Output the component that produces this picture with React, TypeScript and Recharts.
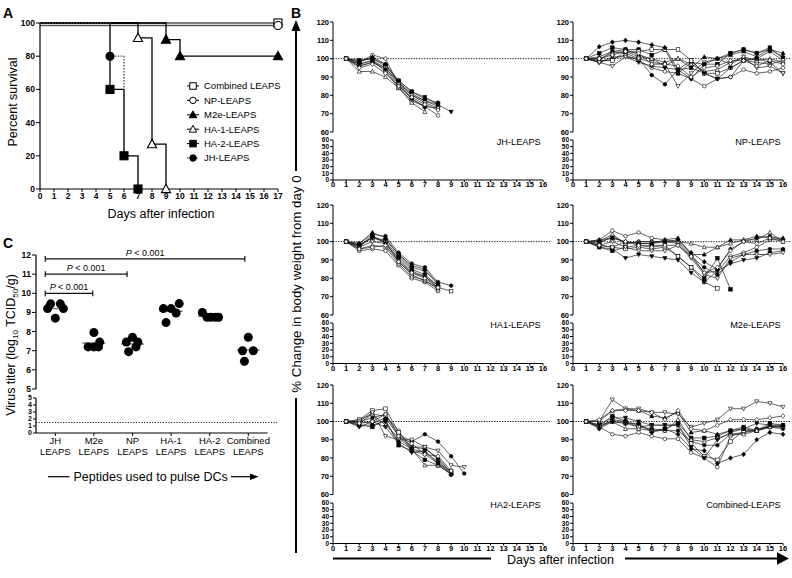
import React from 'react';
import { LineChart, Line, XAxis, YAxis, ReferenceLine, ScatterChart, Scatter } from 'recharts';

const FONT = '"Liberation Sans", Arial, Helvetica, sans-serif';

// ================= Panel A: survival =================
const survivalTicks = [0, 1, 2, 3, 4, 5, 6, 7, 8, 9, 10, 11, 12, 13, 14, 15, 16, 17];
const percentTicks = [0, 20, 40, 60, 80, 100];
const combinedSurvival = [{ day: 0, pct: 100 }, { day: 17, pct: 100, mark: true }];
const npSurvival = [{ day: 0, pct: 98.5 }, { day: 17, pct: 98.5, mark: true }];
const m2eSurvival = [{ day: 0, pct: 100 }, { day: 9, pct: 90, mark: true }, { day: 10, pct: 80, mark: true }, { day: 17, pct: 80, mark: true }];
const ha1Survival = [{ day: 0, pct: 100 }, { day: 7, pct: 91, mark: true }, { day: 8, pct: 27, mark: true }, { day: 9, pct: 0, mark: true }];
const ha2Survival = [{ day: 0, pct: 100 }, { day: 5, pct: 60, mark: true }, { day: 6, pct: 20, mark: true }, { day: 7, pct: 0, mark: true }];
const jhSurvival = [{ day: 0, pct: 100 }, { day: 5, pct: 80, mark: true }, { day: 6, pct: 20 }, { day: 7, pct: 0 }];
const survivalNames = ['Combined LEAPS', 'NP-LEAPS', 'M2e-LEAPS', 'HA-1-LEAPS', 'HA-2-LEAPS', 'JH-LEAPS'];

// ================= Panel C: virus titer =================
const titerCategoriesTop = ['JH', 'M2e', 'NP', 'HA-1', 'HA-2', 'Combined'];
const titerCategoriesBottom = ['LEAPS', 'LEAPS', 'LEAPS', 'LEAPS', 'LEAPS', 'LEAPS'];
const jhTiter = [9.2, 9.45, 9.45, 9.2, 8.7];
const m2eTiter = [7.95, 7.45, 7.2, 7.2, 7.2];
const npTiter = [7.7, 7.45, 7.45, 7.2, 6.95];
const ha1Titer = [9.2, 9.2, 9.46, 8.97, 8.47];
const ha2Titer = [9.0, 8.75, 8.75, 8.75, 8.75];
const combinedTiter = [7.7, 7.0, 7.0, 6.45];
// horizontal spread of the dots inside each category (category units)
const jhJitter = [-0.2, -0.12, 0.13, 0.21, 0];
const m2eJitter = [0, 0.15, -0.15, 0, 0.12];
const npJitter = [0, -0.16, 0.14, 0.09, -0.1];
const ha1Jitter = [-0.2, 0, 0.21, 0.13, -0.13];
const ha2Jitter = [-0.19, -0.07, 0.03, 0.15, 0.23];
const combinedJitter = [0, -0.15, 0.13, -0.1];
const titerUpperTicks = [5, 6, 7, 8, 9, 10, 11, 12];
const titerLowerTicks = [0, 1, 2, 3, 4, 5];
const detectionLimit = 1.5;
const comparisonStarts = [0.24, 0.24, 0.24];
const comparisonEnds = [1.47, 2.36, 5.41];
const comparisonLevels = [10, 11, 11.8];
const comparisonText = 'P < 0.001';

// ================= Panel B: body weight =================
const weightDayTicks = [0, 1, 2, 3, 4, 5, 6, 7, 8, 9, 10, 11, 12, 13, 14, 15, 16];
const weightUpperTicks = [60, 70, 80, 90, 100, 110, 120];
const weightLowerTicks = [0, 10, 20, 30, 40, 50, 60];

const jhWeights = [
  [100, 99, 100, 97, 88, 82, 78, 76],
  [100, 98, 102, 100, 86, 78, 74, 69],
  [100, 99, 100, 96, 88, 82, 79, 75],
  [100, 97, 99, 93, 84, 77, 74, 73],
  [100, 98, 101, 97, 87, 80, 77, 74],
  [100, 93, 93, 90, 84, 76, 71],
  [100, 97, 99, 95, 87, 81, 77, 75, 71],
  [100, 96, 98, 95, 86, 80, 76, 73],
  [100, 96, 98, 94, 85, 78, 73.5],
  [100, 95, 97, 92, 85, 79, 75, 72],
];
const npWeights = [
  [100, 99, 104, 103, 100, 91, 86, 94, 99, 92, 89, 90, 99, 100, 104, 99],
  [100, 98, 100, 102, 99, 95, 93, 92, 89, 85, 89, 90, 94, 92, 93, 95],
  [100, 103, 106, 105, 105, 102, 105, 92, 98, 97, 97, 103, 105, 103, 106, 100],
  [100, 99, 99, 104, 104, 105, 105, 105, 99, 92, 92, 95, 99, 98, 97, 99],
  [100, 101, 104, 105, 102, 100, 98, 100, 95, 101, 100, 102, 104, 101, 105, 103],
  [100, 100, 103, 104, 101, 100, 96, 100, 97, 93, 94, 98, 101, 99, 100, 98],
  [100, 98, 101, 101, 98, 96, 95, 94, 95, 92, 89, 95, 99, 100, 98, 92],
  [100, 98, 96, 101, 100, 98, 97, 85, 92, 98, 100, 97, 101, 95, 96, 92],
  [100, 106.5, 109, 110, 109, 107.5, 106, 94, 89, 97, 100, 103, 105, 103, 105, 101],
  [100, 100, 102, 104, 103, 97, 97, 96, 90, 95, 96, 99, 99, 96, 99, 97],
];
const ha1Weights = [
  [100, 99, 104, 103, 94, 88, 86, 78, 76],
  [100, 95, 96, 95, 87, 80, 78, 73],
  [100, 97, 103, 100, 92, 85, 82, 76],
  [100, 98, 102, 100, 89, 82, 78.5, 75, 73],
  [100, 99, 105, 102, 93, 87, 85, 77],
  [100, 96, 98, 97, 88, 81, 79, 74],
  [100, 98, 102, 101, 93, 86, 84, 77],
  [100, 97, 100, 99, 90, 83, 81, 75],
  [100, 98, 103, 99, 91, 84, 81, 76],
  [100, 96, 97, 98, 89, 83, 80, 75],
];
const m2eWeights = [
  [100, 99, 103, 99, 100, 100, 100, 99, 92, 86, 82, 89, 93, 95, 96, 96],
  [100, 101, 106, 103, 105, 102, 101, 100, 93, 83, 84, 92, 94, 97, 101, 101],
  [100, 97, 95, 97, 98, 98, 98, 92, 86, 80, 91, 74],
  [100, 98, 97, 96, 97, 96, 97, 92, 86, 78, 74.5],
  [100, 101, 102, 100, 99, 99, 101, 102, 93, 93, 97, 101, 101, 103, 102, 102],
  [100, 100, 104, 99, 100, 100, 100, 100, 99, 97, 97, 99, 101, 101, 105, 100],
  [100, 97, 96, 91, 93, 92, 91, 90, 83, 78, 84, 88, 90, 91, 94, 95],
  [100, 98, 100, 97, 95, 95, 95, 98, 91, 82, 80, 91, 93, 93, 93, 94],
  [100, 100, 102, 100, 99, 99, 100, 101, 94, 89, 85, 96, 100, 102, 103, 101],
  [100, 98, 97, 100, 98, 97, 98, 98, 92, 83, 86, 95, 100, 99, 102, 100],
];
const ha2Weights = [
  [100, 100, 102, 104, 93, 89, 93, 89, 81, 71.5],
  [100, 101, 104, 103, 95, 84, 82, 77, 71],
  [100, 98, 97, 101, 87, 84, 79, 76, 72],
  [100, 101, 106, 107, 94, 86, 86, 79, 72],
  [100, 100, 99, 102, 92, 86, 85, 80, 72],
  [100, 99, 104, 98, 91, 85, 76, 76, 71],
  [100, 97, 100, 97, 88, 83, 84, 77, 73],
  [100, 100, 105, 92, 90, 90, 86, 84, 76, 75],
  [100, 98, 98, 100, 89, 85, 83, 78, 71],
  [100, 99, 100, 104, 92, 88, 82, 81, 73],
];
const combinedWeights = [
  [100, 97, 101, 100, 97, 96, 95, 95, 89, 87, 87, 93, 94, 96, 97, 96],
  [100, 97, 93, 92, 94, 92, 90.5, 90.5, 83, 80, 75, 92, 94, 95, 97, 98],
  [100, 98, 103, 100, 98, 95, 96, 99, 91, 91, 92, 95, 97, 95, 99, 98],
  [100, 98, 100, 99, 97, 98, 98, 98, 88, 81, 79, 89, 95, 95, 97, 97],
  [100, 100, 106, 107, 106, 103, 102, 105, 94, 95, 93, 95, 96, 95, 98, 98],
  [100, 97, 100, 96, 96, 95, 95, 101, 90, 89, 91, 93, 93, 95, 97, 97],
  [100, 98, 102, 102, 100, 98, 98, 98, 86, 80, 90, 94, 96, 99, 98, 97],
  [100, 100, 112, 107, 107, 105, 105, 104, 97, 99, 101, 107, 107, 111, 110, 108],
  [100, 96, 100, 99, 99, 94, 96, 93, 85, 84, 77, 80, 82, 90, 94, 93],
  [100, 101, 106, 106, 106, 105, 101, 106, 96, 95, 98, 101, 101, 101, 102, 103],
];

// ================= styles / helpers =================
type Shape = 'circle' | 'square' | 'tri' | 'itri' | 'diamond';
const mouseMarkers: { shape: Shape; filled: boolean }[] = [
  { shape: 'circle', filled: true },
  { shape: 'circle', filled: false },
  { shape: 'square', filled: true },
  { shape: 'square', filled: false },
  { shape: 'tri', filled: true },
  { shape: 'tri', filled: false },
  { shape: 'itri', filled: true },
  { shape: 'itri', filled: false },
  { shape: 'diamond', filled: true },
  { shape: 'diamond', filled: false },
];

function Marker({ cx, cy, shape, filled, size, sw }: any) {
  if (cx == null || cy == null || isNaN(cx) || isNaN(cy)) return null;
  const h = size / 2;
  const c = { fill: filled ? '#000' : '#fff', stroke: '#000', strokeWidth: sw };
  switch (shape) {
    case 'circle':
      return <circle cx={cx} cy={cy} r={h} {...c} />;
    case 'square':
      return <rect x={cx - h} y={cy - h} width={size} height={size} {...c} />;
    case 'tri':
      return <polygon points={`${cx},${cy - h * 1.2} ${cx + h * 1.15},${cy + h * 0.9} ${cx - h * 1.15},${cy + h * 0.9}`} {...c} />;
    case 'itri':
      return <polygon points={`${cx},${cy + h * 1.2} ${cx + h * 1.15},${cy - h * 0.9} ${cx - h * 1.15},${cy - h * 0.9}`} {...c} />;
    case 'diamond':
      return <polygon points={`${cx},${cy - h * 1.3} ${cx + h * 1.1},${cy} ${cx},${cy + h * 1.3} ${cx - h * 1.1},${cy}`} {...c} />;
  }
  return null;
}

function makeDot(shape: Shape, filled: boolean, size: number, sw: number, onlyMarked: boolean) {
  return (p: any) => {
    const show = !onlyMarked || (p.payload && p.payload.mark);
    return (
      <g key={`dot-${p.index}`}>
        {show ? <Marker cx={p.cx} cy={p.cy} shape={shape} filled={filled} size={size} sw={sw} /> : null}
      </g>
    );
  };
}

const axisStroke = { stroke: '#000', strokeWidth: 1.2 };
const boldTick = (fs: number) => ({ fontSize: fs, fontWeight: 700, fill: '#000', fontFamily: FONT });

// ================= Panel A component =================
const survivalSeries = [
  { data: combinedSurvival, shape: 'square' as Shape, filled: false, color: '#555', dash: undefined },
  { data: npSurvival, shape: 'circle' as Shape, filled: false, color: '#555', dash: undefined },
  { data: m2eSurvival, shape: 'tri' as Shape, filled: true, color: '#000', dash: undefined },
  { data: ha1Survival, shape: 'tri' as Shape, filled: false, color: '#000', dash: undefined },
  { data: ha2Survival, shape: 'square' as Shape, filled: true, color: '#000', dash: undefined },
  { data: jhSurvival, shape: 'circle' as Shape, filled: true, color: '#444', dash: '1.5 1.5' },
];
const legendStyles: { shape: Shape; filled: boolean; dash?: string }[] = [
  { shape: 'square', filled: false },
  { shape: 'circle', filled: false },
  { shape: 'tri', filled: true },
  { shape: 'tri', filled: false },
  { shape: 'square', filled: true },
  { shape: 'circle', filled: true, dash: '1.5 1.5' },
];

function PanelA() {
  return (
    <div style={{ position: 'absolute', left: 0, top: 0 }}>
      <LineChart width={290} height={205} margin={{ top: 23, right: 12, bottom: 0, left: 0 }}>
        <XAxis type="number" dataKey="day" domain={[0, 17]} ticks={survivalTicks} interval={0} height={16}
          tickSize={3} tickMargin={1} tick={boldTick(8.5)} axisLine={axisStroke} tickLine={{ stroke: '#000' }} />
        <YAxis type="number" dataKey="pct" domain={[0, 100]} ticks={percentTicks} interval={0} width={40}
          tickSize={4} tickMargin={1} tick={boldTick(8.5)} axisLine={axisStroke} tickLine={{ stroke: '#000' }} />
        {survivalSeries.map((s, i) => (
          <Line key={i} data={s.data} dataKey="pct" type="stepAfter" stroke={s.color} strokeWidth={1.3}
            strokeDasharray={s.dash} isAnimationActive={false}
            dot={makeDot(s.shape, s.filled, 8, 1.1, true)} activeDot={false} />
        ))}
      </LineChart>
    </div>
  );
}

// ================= Panel C component =================
const titerGroups = [
  { values: jhTiter, jitter: jhJitter },
  { values: m2eTiter, jitter: m2eJitter },
  { values: npTiter, jitter: npJitter },
  { values: ha1Titer, jitter: ha1Jitter },
  { values: ha2Titer, jitter: ha2Jitter },
  { values: combinedTiter, jitter: combinedJitter },
];

const PLabel = (props: any) => {
  const vb = props.viewBox || {};
  const cx = (vb.x || 0) + (vb.width || 0) / 2;
  return (
    <text x={cx} y={(vb.y || 0) - 3} textAnchor="middle" fontSize={9} fontFamily={FONT} fill="#000">
      <tspan fontStyle="italic">P</tspan>
      <tspan>{comparisonText.slice(1)}</tspan>
    </text>
  );
};

const CatTick = (props: any) => {
  const { x, y, payload } = props;
  const i = Math.round(payload.value - 0.5);
  return (
    <text x={x} y={y} textAnchor="middle" fontSize={9.5} fontFamily={FONT} fill="#000">
      <tspan x={x} dy={8}>{titerCategoriesTop[i]}</tspan>
      <tspan x={x} dy={11.5}>{titerCategoriesBottom[i]}</tspan>
    </text>
  );
};

const dotShape = (p: any) => <circle cx={p.cx} cy={p.cy} r={4.5} fill="#000" />;

function PanelC() {
  const catCenters = titerCategoriesTop.map((_, i) => i + 0.5);
  return (
    <>
      <div style={{ position: 'absolute', left: 0, top: 245 }}>
        <ScatterChart width={279.6} height={150} margin={{ top: 10, right: 12, bottom: 6, left: 0 }}>
          <XAxis type="number" dataKey="x" domain={[0, 6]} hide />
          <YAxis type="number" dataKey="y" domain={[5, 12]} ticks={titerUpperTicks} interval={0} width={36}
            tickSize={4} tickMargin={1} tick={boldTick(8.5)} axisLine={axisStroke} tickLine={{ stroke: '#000' }} />
          {titerGroups.map((g, i) => {
            const mean = g.values.reduce((a, b) => a + b, 0) / g.values.length;
            return (
              <ReferenceLine key={`m${i}`} segment={[{ x: catCenters[i] - 0.3, y: mean }, { x: catCenters[i] + 0.3, y: mean }]}
                stroke="#777" strokeWidth={1.4} ifOverflow="visible" />
            );
          })}
          {titerGroups.map((g, i) => (
            <Scatter key={`s${i}`} data={g.values.map((v, j) => ({ x: catCenters[i] + g.jitter[j], y: v }))}
              shape={dotShape} isAnimationActive={false} />
          ))}
          {comparisonLevels.map((lv, i) => (
            <ReferenceLine key={`b${i}`} segment={[{ x: comparisonStarts[i], y: lv }, { x: comparisonEnds[i], y: lv }]}
              stroke="#111" strokeWidth={1.2} ifOverflow="visible" label={<PLabel />} />
          ))}
          {comparisonLevels.map((lv, i) => (
            <ReferenceLine key={`cl${i}`} segment={[{ x: comparisonStarts[i], y: lv - 0.15 }, { x: comparisonStarts[i], y: lv + 0.15 }]}
              stroke="#111" strokeWidth={1.2} ifOverflow="visible" />
          ))}
          {comparisonLevels.map((lv, i) => (
            <ReferenceLine key={`cr${i}`} segment={[{ x: comparisonEnds[i], y: lv - 0.15 }, { x: comparisonEnds[i], y: lv + 0.15 }]}
              stroke="#111" strokeWidth={1.2} ifOverflow="visible" />
          ))}
        </ScatterChart>
      </div>
      <div style={{ position: 'absolute', left: 0, top: 392 }}>
        <LineChart width={279.6} height={71} data={catCenters.map((c) => ({ x: c }))} margin={{ top: 6, right: 12, bottom: 0, left: 0 }}>
          <XAxis type="number" dataKey="x" domain={[0, 6]} ticks={catCenters} interval={0} height={30}
            tickSize={3} tickMargin={0} tick={(p: any) => <CatTick {...p} />} axisLine={axisStroke} tickLine={{ stroke: '#000' }} />
          <YAxis type="number" dataKey="x" domain={[0, 5]} allowDataOverflow ticks={titerLowerTicks} interval={0} width={36}
            tickSize={3} tickMargin={1} tick={boldTick(7)} axisLine={axisStroke} tickLine={{ stroke: '#000' }} />
          <ReferenceLine segment={[{ x: 0, y: detectionLimit }, { x: 6.25, y: detectionLimit }]} stroke="#000"
            strokeWidth={0.9} strokeDasharray="1.2 1.5" ifOverflow="visible" />
        </LineChart>
      </div>
    </>
  );
}

// ================= Panel B component =================
const bColumns = [332.7, 572.7];
const bRows = [
  { y120: 22, y60u: 132, y60l: 140, y0: 180 },
  { y120: 205, y60u: 315, y60l: 323, y0: 363.5 },
  { y120: 385, y60u: 494.5, y60l: 502.5, y0: 543 },
];
const bPanels = [
  { name: 'JH-LEAPS', weights: jhWeights, col: 0, row: 0 },
  { name: 'NP-LEAPS', weights: npWeights, col: 1, row: 0 },
  { name: 'HA1-LEAPS', weights: ha1Weights, col: 0, row: 1 },
  { name: 'M2e-LEAPS', weights: m2eWeights, col: 1, row: 1 },
  { name: 'HA2-LEAPS', weights: ha2Weights, col: 0, row: 2 },
  { name: 'Combined-LEAPS', weights: combinedWeights, col: 1, row: 2 },
];

function WeightPanel({ name, weights, col, row }: any) {
  const x0 = bColumns[col];
  const r = bRows[row];
  const plotW = 210;
  const thin = { stroke: '#000', strokeWidth: 1 };
  return (
    <>
      <div style={{ position: 'absolute', left: x0 - 40, top: r.y120 - 6 }}>
        <LineChart width={40 + plotW + 12} height={r.y60u - r.y120 + 12} margin={{ top: 6, right: 12, bottom: 6, left: 0 }}>
          <XAxis type="number" dataKey="day" domain={[0, 16]} hide />
          <YAxis type="number" domain={[60, 120]} ticks={weightUpperTicks} interval={0} width={40}
            tickSize={3} tickMargin={1} tick={boldTick(7.5)} axisLine={thin} tickLine={{ stroke: '#000' }} />
          <ReferenceLine segment={[{ x: 0, y: 100 }, { x: 16.55, y: 100 }]} stroke="#000" strokeWidth={0.9}
            strokeDasharray="1.3 1.3" ifOverflow="visible" />
          {weights.map((w: number[], i: number) => (
            <Line key={i} data={w.map((v, d) => ({ day: d + 1, w: v }))} dataKey="w" type="linear" stroke="#222"
              strokeWidth={0.7} isAnimationActive={false} activeDot={false}
              dot={makeDot(mouseMarkers[i].shape, mouseMarkers[i].filled, 3.6, 0.6, false)} />
          ))}
        </LineChart>
      </div>
      <div style={{ position: 'absolute', left: x0 - 40, top: r.y60l - 5 }}>
        <LineChart width={40 + plotW + 12} height={r.y0 - r.y60l + 5 + 12} data={weightDayTicks.map((d) => ({ day: d }))}
          margin={{ top: 5, right: 12, bottom: 0, left: 0 }}>
          <XAxis type="number" dataKey="day" domain={[0, 16]} ticks={weightDayTicks} interval={0} height={12}
            tickSize={2} tickMargin={0} tick={boldTick(7.5)} axisLine={thin} tickLine={{ stroke: '#000' }} />
          <YAxis type="number" dataKey="day" domain={[0, 60]} allowDataOverflow ticks={weightLowerTicks} interval={0} width={40}
            tickSize={3} tickMargin={1} tick={boldTick(6.5)} axisLine={thin} tickLine={{ stroke: '#000' }} />
        </LineChart>
      </div>
      <div style={{ position: 'absolute', left: x0, width: plotW - 2, top: r.y60l - 4, textAlign: 'right',
        fontFamily: FONT, fontSize: 9.2, lineHeight: '12px', color: '#000' }}>{name}</div>
    </>
  );
}

// ================= annotations =================
function Overlay() {
  const legendX = 187;
  return (
    <svg width={792} height={578} style={{ position: 'absolute', left: 0, top: 0, pointerEvents: 'none' }}>
      <g fontFamily={FONT} fill="#000">
        <text x={3} y={18} fontSize={14} fontWeight={700}>A</text>
        <text x={291} y={18} fontSize={14} fontWeight={700}>B</text>
        <text x={3} y={248} fontSize={14} fontWeight={700}>C</text>

        <text transform="translate(16.5,102) rotate(-90)" textAnchor="middle" fontSize={12.5}>Percent survival</text>
        <text x={161} y={218} textAnchor="middle" fontSize={12.5}>Days after infection</text>

        {survivalNames.map((n, i) => {
          const y = 86 + i * 14.4;
          const st = legendStyles[i];
          return (
            <g key={n}>
              <line x1={legendX} x2={legendX + 12} y1={y} y2={y} stroke="#000" strokeWidth={1} strokeDasharray={st.dash} />
              <Marker cx={legendX + 6} cy={y} shape={st.shape} filled={st.filled} size={6.5} sw={1} />
              <text x={legendX + 17} y={y + 3.4} fontSize={9.5}>{n}</text>
            </g>
          );
        })}

        <text transform="translate(14.5,345) rotate(-90)" textAnchor="middle" fontSize={12.5}>
          Virus titer (log<tspan fontSize={8} dy={3}>10</tspan><tspan dy={-3}> TCID</tspan><tspan fontSize={8} dy={3}>50</tspan><tspan dy={-3}>/g)</tspan>
        </text>
        <line x1={48} x2={69.5} y1={476.7} y2={476.7} stroke="#000" strokeWidth={1.2} />
        <text x={73.5} y={481} fontSize={12.5}>Peptides used to pulse DCs</text>
        <line x1={231} x2={251} y1={476.7} y2={476.7} stroke="#000" strokeWidth={1.2} />
        <polygon points="250,473.5 258.5,476.7 250,479.9" fill="#000" />

        <line x1={296} x2={296} y1={553} y2={398} stroke="#000" strokeWidth={2} />
        <line x1={296} x2={296} y1={171} y2={29} stroke="#000" strokeWidth={2} />
        <polygon points="296,20 291.5,31 300.5,31" fill="#000" />
        <text transform="translate(300.5,284) rotate(-90)" textAnchor="middle" fontSize={13.3}>% Change in body weight from day 0</text>

        <line x1={333} x2={491} y1={558.5} y2={558.5} stroke="#000" strokeWidth={2} />
        <text x={507} y={564} fontSize={12.5}>Days after infection</text>
        <line x1={625} x2={779} y1={558.5} y2={558.5} stroke="#000" strokeWidth={2} />
        <polygon points="777,552.3 789,558.5 777,564.8" fill="#000" />
      </g>
    </svg>
  );
}

export default function App() {
  return (
    <div style={{ position: 'absolute', left: 0, top: 0, width: 792, height: 578, background: '#fff', overflow: 'hidden', fontFamily: FONT }}>
      <PanelA />
      <PanelC />
      {bPanels.map((p) => (
        <WeightPanel key={p.name} {...p} />
      ))}
      <Overlay />
    </div>
  );
}
